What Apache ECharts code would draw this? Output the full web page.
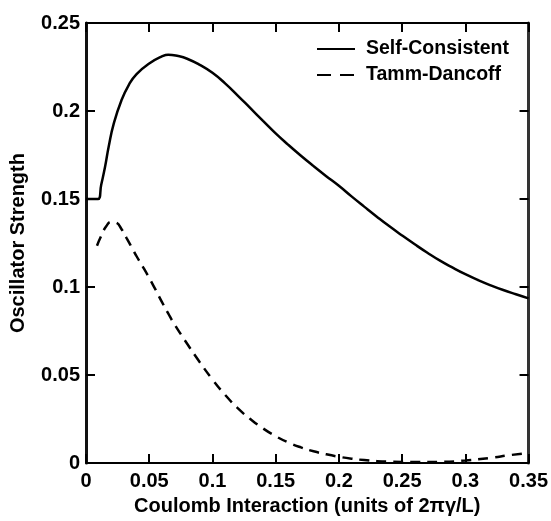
<!DOCTYPE html>
<html><head><meta charset="utf-8">
<script src="https://cdn.jsdelivr.net/npm/echarts@6/dist/echarts.min.js"></script>
<style>html,body{margin:0;padding:0;background:#fff}#c{width:551px;height:521px}</style>
</head><body><div id="c"></div>
<script>
const xTicks = [0, 0.05, 0.1, 0.15, 0.2, 0.25, 0.3, 0.35];
const yTicks = [0, 0.05, 0.1, 0.15, 0.2, 0.25];
const scX = [0, 0.0095, 0.012, 0.015, 0.018, 0.022, 0.028, 0.034, 0.04, 0.05, 0.06, 0.065, 0.073, 0.08, 0.09, 0.1, 0.11, 0.12, 0.13, 0.14, 0.15, 0.16, 0.17, 0.18, 0.19, 0.2, 0.21, 0.22, 0.23, 0.24, 0.25, 0.26, 0.27, 0.28, 0.29, 0.3, 0.31, 0.32, 0.33, 0.34, 0.35];
const scY = [0.15, 0.15, 0.158, 0.168, 0.18, 0.193, 0.206, 0.215, 0.221, 0.227, 0.231, 0.232, 0.2312, 0.2297, 0.2262, 0.2217, 0.2157, 0.2088, 0.2016, 0.1944, 0.1873, 0.1808, 0.1746, 0.1687, 0.163, 0.1575, 0.1515, 0.1457, 0.14, 0.1345, 0.1293, 0.1243, 0.1195, 0.115, 0.111, 0.1073, 0.104, 0.101, 0.0983, 0.0959, 0.0936];
const tdX = [0.0087, 0.012, 0.016, 0.02, 0.024, 0.028, 0.032, 0.036, 0.04, 0.045, 0.05, 0.055, 0.06, 0.065, 0.07, 0.08, 0.09, 0.1, 0.11, 0.12, 0.13, 0.14, 0.15, 0.16, 0.17, 0.18, 0.19, 0.2, 0.21, 0.22, 0.23, 0.24, 0.26, 0.28, 0.3, 0.32, 0.335, 0.35];
const tdY = [0.1235, 0.129, 0.1345, 0.137, 0.1365, 0.133, 0.128, 0.1228, 0.1175, 0.1115, 0.1052, 0.0985, 0.0916, 0.085, 0.0788, 0.0678, 0.0573, 0.0475, 0.0388, 0.0312, 0.025, 0.0197, 0.0153, 0.0117, 0.0089, 0.0067, 0.005, 0.0036, 0.0025, 0.0017, 0.0011, 0.0008, 0.0006, 0.0007, 0.0015, 0.003, 0.0045, 0.0058];
const seriesNames = ['Self-Consistent', 'Tamm-Dancoff'];
const xTitle = 'Coulomb Interaction (units of 2πγ/L)';
const yTitle = 'Oscillator Strength';

const F = '"Liberation Sans", Arial, sans-serif';
const chart = echarts.init(document.getElementById('c'));
const fmt = v => { const t = xTicks.concat(yTicks).find(t => Math.abs(t - v) < 1e-9); return t === undefined ? '' : String(t); };
const lbl = {fontFamily: F, fontWeight: 'bold', fontSize: 20, color: '#000'};
chart.setOption({
  animation: false,
  grid: {left: 86, right: 21, top: 23, bottom: 55},
  legend: {
    orient: 'vertical', left: 311, top: 34, itemWidth: 38, itemHeight: 20, itemGap: 6,
    itemStyle: {opacity: 0},
    textStyle: {fontFamily: F, fontWeight: 'bold', fontSize: 19.5, color: '#000', padding: [0, 0, 0, 6]},
    data: [{name: seriesNames[0]}, {name: seriesNames[1], lineStyle: {type: [14, 9]}}]
  },
  xAxis: [{
    type: 'value', min: 0, max: 0.35, interval: 0.05, position: 'bottom',
    name: xTitle, nameLocation: 'middle', nameGap: 30,
    nameTextStyle: {fontFamily: F, fontWeight: 'bold', fontSize: 20, color: '#000'},
    axisLine: {onZero: false, lineStyle: {color: '#000', width: 2}},
    axisTick: {inside: true, length: 9, lineStyle: {color: '#000', width: 2}},
    axisLabel: Object.assign({margin: 8, formatter: fmt}, lbl),
    splitLine: {show: false}
  }, {
    type: 'value', min: 0, max: 0.35, interval: 0.05, position: 'top',
    axisLine: {show: true, onZero: false, lineStyle: {color: '#000', width: 2}},
    axisTick: {show: true, inside: true, length: 9, lineStyle: {color: '#000', width: 2}},
    axisLabel: {show: false}, splitLine: {show: false}
  }],
  yAxis: [{
    type: 'value', min: 0, max: 0.25, interval: 0.05, position: 'left',
    name: yTitle, nameLocation: 'middle', nameGap: 58,
    nameTextStyle: {fontFamily: F, fontWeight: 'bold', fontSize: 20, color: '#000'},
    axisLine: {show: true, onZero: false, lineStyle: {color: '#111', width: 3}},
    axisTick: {inside: true, length: 9, lineStyle: {color: '#000', width: 2}},
    axisLabel: Object.assign({margin: 6, formatter: fmt}, lbl),
    splitLine: {show: false}
  }, {
    type: 'value', min: 0, max: 0.25, interval: 0.05, position: 'right',
    axisLine: {show: true, onZero: false, lineStyle: {color: '#333', width: 3}},
    axisTick: {show: true, inside: true, length: 9, lineStyle: {color: '#000', width: 2}},
    axisLabel: {show: false}, splitLine: {show: false}
  }],
  series: [{
    name: seriesNames[0], type: 'line', showSymbol: false, symbol: 'none', smooth: 0.5,
    data: scX.map((x, i) => [x, scY[i]]),
    lineStyle: {color: '#000', width: 2.5}, itemStyle: {color: '#000'}
  }, {
    name: seriesNames[1], type: 'line', showSymbol: false, symbol: 'none', smooth: 0.5,
    data: tdX.map((x, i) => [x, tdY[i]]),
    lineStyle: {color: '#000', width: 2.5, type: [10, 7]}, itemStyle: {color: '#000'}
  }]
});
</script></body></html>
